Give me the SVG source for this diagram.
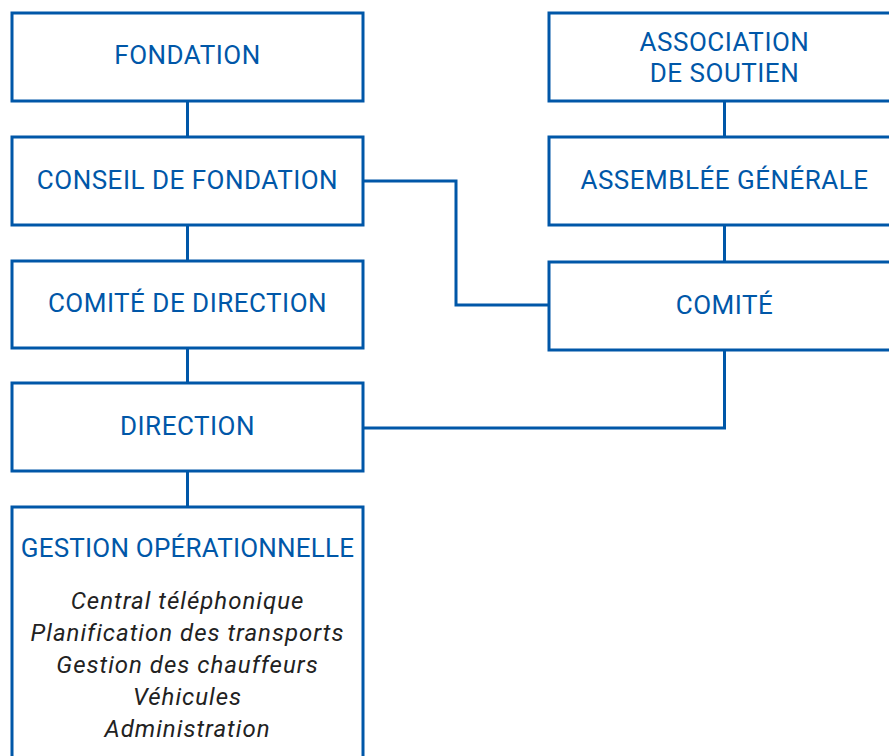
<svg xmlns="http://www.w3.org/2000/svg" width="889" height="756" viewBox="0 0 889 756">
<style>
.box{fill:#fff;stroke:#0057a8;stroke-width:3}
.ln{fill:none;stroke:#0057a8;stroke-width:3}
.t{font-family:Roboto,"Liberation Sans",sans-serif;font-size:26px;letter-spacing:0.5px;fill:#0057a8;text-anchor:middle}
.i{font-family:Roboto,"Liberation Sans",sans-serif;font-size:24px;letter-spacing:1px;font-style:italic;fill:#222;text-anchor:middle}
</style>
<rect width="889" height="756" fill="#fff"/>
<g id="connectors">
<line class="ln" x1="187.5" y1="101" x2="187.5" y2="137"/>
<line class="ln" x1="187.5" y1="225" x2="187.5" y2="261"/>
<line class="ln" x1="187.5" y1="348" x2="187.5" y2="383"/>
<line class="ln" x1="187.5" y1="471" x2="187.5" y2="507"/>
<line class="ln" x1="724.5" y1="101" x2="724.5" y2="137"/>
<line class="ln" x1="724.5" y1="225" x2="724.5" y2="262"/>
<polyline class="ln" points="363,181 456,181 456,305 549,305"/>
<polyline class="ln" points="363,428 724.5,428 724.5,350"/>
</g>
<g id="fondation"><rect class="box" x="12" y="13" width="351" height="88"/><text class="t" x="187.5" y="64">FONDATION</text></g>
<g id="conseil"><rect class="box" x="12" y="137" width="351" height="88"/><text class="t" x="187.5" y="189">CONSEIL DE FONDATION</text></g>
<g id="comite-direction"><rect class="box" x="12" y="261" width="351" height="87"/><text class="t" x="187.5" y="312">COMITÉ DE DIRECTION</text></g>
<g id="direction"><rect class="box" x="12" y="383" width="351" height="88"/><text class="t" x="187.5" y="435">DIRECTION</text></g>
<g id="gestion"><rect class="box" x="12" y="507" width="351" height="270"/>
<text class="t" x="187.5" y="557" style="letter-spacing:0.2px">GESTION OPÉRATIONNELLE</text>
<text class="i" x="187.5" y="609">Central téléphonique</text>
<text class="i" x="187.5" y="641">Planification des transports</text>
<text class="i" x="187.5" y="673">Gestion des chauffeurs</text>
<text class="i" x="187.5" y="705">Véhicules</text>
<text class="i" x="187.5" y="737">Administration</text>
</g>
<g id="association"><rect class="box" x="549" y="13" width="351" height="88"/><text class="t" x="724.5" y="51">ASSOCIATION</text><text class="t" x="724.5" y="82">DE SOUTIEN</text></g>
<g id="assemblee"><rect class="box" x="549" y="137" width="351" height="88"/><text class="t" x="724.5" y="189">ASSEMBLÉE GÉNÉRALE</text></g>
<g id="comite"><rect class="box" x="549" y="262" width="351" height="88"/><text class="t" x="724.5" y="314">COMITÉ</text></g>
</svg>
